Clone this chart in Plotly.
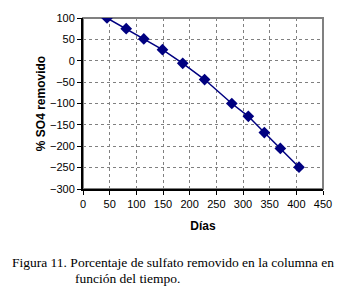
import plotly.graph_objects as go

dias = [45, 81, 114, 149, 187, 228, 279, 310, 340, 370, 405]
so4_removido = [100, 75, 51, 26, -6, -44, -100, -130, -168, -205, -249]

x_ticks = [0, 50, 100, 150, 200, 250, 300, 350, 400, 450]
y_ticks = [100, 50, 0, -50, -100, -150, -200, -250, -300]

caption_1 = "Figura 11. Porcentaje de sulfato removido en la columna en"
caption_2 = "función del tiempo."

fig = go.Figure()
fig.add_trace(go.Scatter(
    x=dias, y=so4_removido, mode="lines+markers",
    line=dict(color="#000080", width=1.5),
    marker=dict(symbol="diamond", size=9, color="#000080"),
    showlegend=False,
))

axis_font = dict(family="Arial, Liberation Sans, sans-serif", size=11, color="black")
title_font = dict(family="Arial, Liberation Sans, sans-serif", size=12, color="black")

fig.update_xaxes(
    range=[0, 450], tickvals=x_ticks, ticks="outside", ticklen=4, tickcolor="black",
    showgrid=True, gridcolor="#808080", griddash="dot", gridwidth=1,
    showline=True, linecolor="black", linewidth=2, zeroline=False,
    tickfont=axis_font,
    title=dict(text="<b>Días</b>", font=title_font, standoff=12),
)
fig.update_yaxes(
    range=[-300, 100], tickvals=y_ticks, ticks="outside", ticklen=4, tickcolor="black",
    showgrid=True, gridcolor="#808080", griddash="dot", gridwidth=1,
    showline=True, linecolor="black", linewidth=2, zeroline=False,
    tickfont=axis_font,
    title=dict(text="<b>% SO4 removido</b>", font=title_font, standoff=2),
)

fig.add_shape(type="rect", xref="paper", yref="paper", x0=0, y0=0, x1=1, y1=1,
              line=dict(color="#808080", width=2), layer="below")

cap_font = dict(family="Liberation Serif, Times New Roman, serif", size=13.5, color="black")
fig.add_annotation(text=caption_1, xref="paper", yref="paper",
                   x=(10 - 83) / 241, y=(189 - 265) / 176, xanchor="left", yanchor="middle",
                   showarrow=False, font=cap_font)
fig.add_annotation(text=caption_2, xref="paper", yref="paper",
                   x=(73 - 83) / 241, y=(189 - 281) / 176, xanchor="left", yanchor="middle",
                   showarrow=False, font=cap_font)

fig.update_layout(
    width=344, height=298,
    margin=dict(l=83, r=20, t=13, b=109),
    paper_bgcolor="white", plot_bgcolor="white",
)

fig.write_html("out.html")
